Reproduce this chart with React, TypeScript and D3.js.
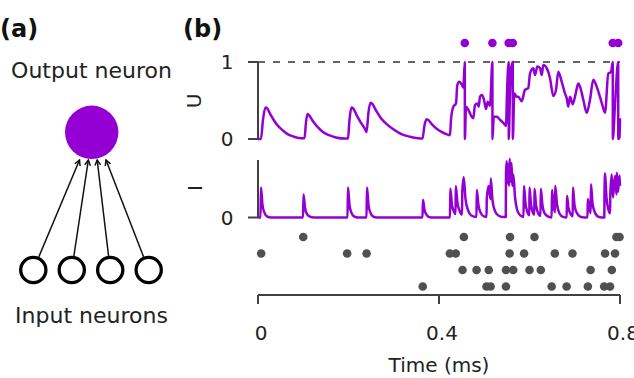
import React from 'react';
import * as d3 from 'd3';

const W = 634;
const H = 378;
const VIOLET = '#9400d3';
const DOT = '#505050';
const AXIS = '#404040';
const FONT = '"DejaVu Sans", sans-serif';

// Time axis (ms)
const xTicks = [0, 0.4, 0.8];
const xTickLabels = ['0', '0.4', '0.8'];
const uTicks = [0, 1];
const iTicks = [0];

// Output neuron spike times (ms)
const outputSpikes = [0.457, 0.518, 0.554, 0.563, 0.784, 0.796];

// Input neuron spike trains (ms), one list per neuron, top row first
const input1 = [0.1, 0.455, 0.557, 0.611, 0.792, 0.799];
const input2 = [0.007, 0.197, 0.24, 0.424, 0.437, 0.556, 0.588, 0.656, 0.695, 0.767, 0.789];
const input3 = [0.452, 0.483, 0.51, 0.548, 0.564, 0.6, 0.625, 0.735, 0.782];
const input4 = [0.364, 0.505, 0.514, 0.548, 0.649, 0.682, 0.729, 0.765, 0.778];
const inputTrains = [input1, input2, input3, input4];

// Membrane potential U of the output neuron: [time, U]
const potentialU: [number, number][] = [
  [0, 0], [0.0066, 0], [0.011, 0.25], [0.0166, 0.41], [0.0199, 0.4], [0.0265, 0.33],
  [0.0354, 0.24], [0.0442, 0.17], [0.0552, 0.11], [0.0663, 0.06], [0.0796, 0.03],
  [0.095, 0.01], [0.1028, 0.01], [0.1061, 0.22], [0.1094, 0.325], [0.1127, 0.31],
  [0.1215, 0.23], [0.1326, 0.15], [0.1436, 0.09], [0.1569, 0.05], [0.1724, 0.02],
  [0.1923, 0.005], [0.1989, 0.005], [0.2022, 0.25], [0.2066, 0.41], [0.2099, 0.4],
  [0.2188, 0.3], [0.2276, 0.21], [0.2365, 0.13], [0.2398, 0.09], [0.2442, 0.35],
  [0.2486, 0.47], [0.2519, 0.46], [0.2608, 0.37], [0.2718, 0.27], [0.2851, 0.19],
  [0.3006, 0.12], [0.3182, 0.06], [0.3359, 0.03], [0.3536, 0.01], [0.3635, 0.005],
  [0.368, 0.18], [0.3724, 0.256], [0.3757, 0.25], [0.3845, 0.19], [0.3956, 0.13],
  [0.4066, 0.09], [0.4177, 0.06], [0.4243, 0.05], [0.4265, 0.25], [0.4316, 0.42],
  [0.4376, 0.46], [0.4404, 0.7], [0.4449, 0.745], [0.4502, 0.71], [0.4537, 0.67],
  [0.457, 1.0], [0.4572, 0], [0.4597, 0.42], [0.4648, 0.38], [0.4722, 0.29],
  [0.4758, 0.27], [0.4796, 0.44], [0.4847, 0.46], [0.4878, 0.42], [0.4906, 0.55],
  [0.495, 0.57], [0.4994, 0.51], [0.5039, 0.39], [0.5076, 0.485], [0.5127, 0.43],
  [0.518, 1.0], [0.5182, 0], [0.521, 0.29], [0.5275, 0.29], [0.5348, 0.25],
  [0.5436, 0.2], [0.5481, 0.17], [0.5503, 0.6], [0.554, 1.0], [0.5542, 0],
  [0.5569, 0.6], [0.5591, 0.9], [0.563, 1.0], [0.5632, 0], [0.5664, 0.59],
  [0.5717, 0.55], [0.5752, 0.55], [0.5827, 0.49], [0.5901, 0.64], [0.5973, 0.66],
  [0.6011, 0.85], [0.6084, 0.92], [0.6122, 0.83], [0.6172, 0.94], [0.6232, 0.92],
  [0.627, 0.83], [0.6305, 0.96], [0.638, 0.92], [0.6453, 0.79], [0.6526, 0.56],
  [0.6586, 0.64], [0.6636, 0.875], [0.6711, 0.745], [0.6785, 0.59], [0.6822, 0.53],
  [0.6857, 0.42], [0.6895, 0.55], [0.6955, 0.45], [0.7006, 0.55], [0.7078, 0.72],
  [0.7116, 0.68], [0.7189, 0.51], [0.7264, 0.34], [0.7337, 0.51], [0.741, 0.77],
  [0.7485, 0.68], [0.7596, 0.47], [0.7669, 0.34], [0.7741, 0.85], [0.7801, 0.87],
  [0.784, 1.0], [0.7842, 0], [0.789, 0.45], [0.796, 1.0], [0.7962, 0],
  [0.7989, 0.02], [0.8, 0.27],
];

// Synaptic input current I: [time, I]
const currentI: [number, number][] = [
  [0, 0], [0.0055, 0], [0.0066, 0.52], [0.0099, 0.22], [0.0144, 0.08], [0.0199, 0.02], [0.0287, 0],
  [0.0994, 0], [0.1006, 0.4], [0.1039, 0.17], [0.1083, 0.06], [0.1149, 0.015], [0.1238, 0],
  [0.1978, 0], [0.1989, 0.52], [0.2022, 0.22], [0.2066, 0.08], [0.2122, 0.02], [0.221, 0],
  [0.2398, 0], [0.2409, 0.52], [0.2442, 0.22], [0.2486, 0.08], [0.2541, 0.02], [0.263, 0],
  [0.3635, 0], [0.3646, 0.31], [0.368, 0.13], [0.3724, 0.05], [0.3779, 0.01], [0.3867, 0],
  [0.4243, 0], [0.425, 0.5], [0.4287, 0.22], [0.4331, 0.1], [0.4365, 0.06], [0.4371, 0.55],
  [0.4409, 0.25], [0.4453, 0.12], [0.4508, 0.05], [0.4515, 0.45], [0.4546, 0.7],
  [0.4586, 0.32], [0.4641, 0.13], [0.4707, 0.04], [0.4829, 0.01], [0.4835, 0.48],
  [0.4873, 0.21], [0.4928, 0.07], [0.4994, 0.02], [0.505, 0.01], [0.5056, 0.33],
  [0.5096, 0.55], [0.5138, 0.32], [0.5145, 0.68], [0.5182, 0.3], [0.5238, 0.11],
  [0.5304, 0.04], [0.5414, 0.01], [0.5476, 0.01], [0.5481, 0.8], [0.5498, 0.98],
  [0.5514, 0.6], [0.5525, 0.93], [0.5547, 0.55], [0.5562, 1.02], [0.558, 0.62],
  [0.5602, 0.95], [0.562, 0.55], [0.5642, 0.75], [0.568, 0.35], [0.5724, 0.14],
  [0.579, 0.04], [0.5867, 0.01], [0.5878, 0.55], [0.5912, 0.24], [0.5956, 0.09],
  [0.5996, 0.04], [0.6, 0.52], [0.6033, 0.23], [0.6077, 0.08], [0.6106, 0.05],
  [0.611, 0.5], [0.6144, 0.22], [0.6188, 0.08], [0.6243, 0.03], [0.625, 0.5],
  [0.6287, 0.21], [0.6343, 0.06], [0.6431, 0.01], [0.649, 0], [0.6497, 0.48],
  [0.653, 0.21], [0.6564, 0.09], [0.6568, 0.55], [0.6608, 0.23], [0.6663, 0.07],
  [0.674, 0.01], [0.6822, 0], [0.6829, 0.38], [0.6862, 0.16], [0.6917, 0.05],
  [0.6955, 0.02], [0.6961, 0.52], [0.6994, 0.22], [0.705, 0.07], [0.7138, 0.01],
  [0.7282, 0], [0.7288, 0.32], [0.7326, 0.14], [0.7352, 0.08], [0.7359, 0.58],
  [0.7392, 0.25], [0.7448, 0.08], [0.7536, 0.01], [0.7653, 0], [0.7657, 0.35],
  [0.7669, 0.77], [0.7702, 0.34], [0.7746, 0.13], [0.7779, 0.07], [0.7786, 0.4],
  [0.7817, 0.75], [0.7845, 0.35], [0.789, 0.72], [0.7923, 0.4], [0.7929, 0.78],
  [0.7956, 0.45], [0.7989, 0.73], [0.8, 0.55],
];

function NetworkDiagram() {
  // Output neuron and the four inputs feeding it
  const out = { cx: 91.7, cy: 132.3, r: 26.7 };
  const inY = 270;
  const inR = 12.6;
  const inX = d3.scaleLinear().domain([0, 3]).range([33.3, 148.7]);
  const tipX = d3.scaleLinear().domain([0, 3]).range([79.5, 106]);
  const tipY = 160;
  const idx = [0, 1, 2, 3];

  return (
    <g>
      <text x={0} y={37} fontFamily={FONT} fontWeight="bold" fontSize={24} fill="#111">(a)</text>
      <text x={91.5} y={78} textAnchor="middle" fontFamily={FONT} fontSize={22} fill="#222">Output neuron</text>
      <circle cx={out.cx} cy={out.cy} r={out.r} fill={VIOLET} />
      {idx.map((i) => {
        const sx0 = inX(i);
        const tx = tipX(i);
        const dx = tx - sx0;
        const dy = tipY - inY;
        const len = Math.hypot(dx, dy);
        const ux = dx / len;
        const uy = dy / len;
        const start = [sx0 + ux * (inR + 1.5), inY + uy * (inR + 1.5)];
        const head = 6;
        const ang = (28 * Math.PI) / 180;
        const bx = -ux;
        const by = -uy;
        const h1 = [tx + head * (bx * Math.cos(ang) - by * Math.sin(ang)), tipY + head * (bx * Math.sin(ang) + by * Math.cos(ang))];
        const h2 = [tx + head * (bx * Math.cos(-ang) - by * Math.sin(-ang)), tipY + head * (bx * Math.sin(-ang) + by * Math.cos(-ang))];
        return (
          <g key={i} stroke="#111" strokeWidth={1.5} fill="none">
            <line x1={start[0]} y1={start[1]} x2={tx} y2={tipY} />
            <path d={`M${h1[0]},${h1[1]}L${tx},${tipY}L${h2[0]},${h2[1]}`} />
          </g>
        );
      })}
      {idx.map((i) => (
        <circle key={'n' + i} cx={inX(i)} cy={inY} r={inR} fill="#fff" stroke="#000" strokeWidth={3.3} />
      ))}
      <text x={91.5} y={323} textAnchor="middle" fontFamily={FONT} fontSize={22} fill="#222">Input neurons</text>
    </g>
  );
}

function TracePanel() {
  const x = d3.scaleLinear().domain([0, 0.8]).range([258, 620]);
  const yU = d3.scaleLinear().domain([0, 1]).range([139, 62]);
  const yI = d3.scaleLinear().domain([0, 1]).range([217.5, 160]);
  const yRow = d3.scaleLinear().domain([0, 3]).range([237, 286.5]);
  const yOut = 43;
  const xAxisY = 295;

  const uLine = d3.line<[number, number]>().x((d) => x(d[0])).y((d) => yU(d[1])).curve(d3.curveMonotoneX);
  const iLine = d3.line<[number, number]>().x((d) => x(d[0])).y((d) => yI(d[1])).curve(d3.curveMonotoneX);

  const x0 = x(0);
  const tickLen = 10;

  return (
    <g fontFamily={FONT}>
      <text x={183} y={37} fontWeight="bold" fontSize={24} fill="#111">(b)</text>

      {/* output spikes */}
      {outputSpikes.map((t, i) => (
        <circle key={'o' + i} cx={x(t)} cy={yOut} r={4.3} fill={VIOLET} />
      ))}

      {/* U panel */}
      <line x1={x0} x2={x(0.8)} y1={yU(1)} y2={yU(1)} stroke="#333" strokeWidth={1.5} strokeDasharray="7 8" />
      <line x1={x0} x2={x0} y1={yU(0)} y2={yU(1)} stroke={AXIS} strokeWidth={2} />
      {uTicks.map((v) => (
        <g key={'u' + v}>
          <line x1={x0 - tickLen} x2={x0} y1={yU(v)} y2={yU(v)} stroke={AXIS} strokeWidth={2} />
          <text x={227} y={yU(v)} dy="0.36em" textAnchor="middle" fontSize={20} fill="#222">{v}</text>
        </g>
      ))}
      <text transform={`translate(201,101) rotate(-90)`} textAnchor="middle" fontSize={20} fill="#222">U</text>
      <path d={uLine(potentialU) || ''} fill="none" stroke={VIOLET} strokeWidth={2.5} strokeLinejoin="round" />

      {/* I panel */}
      <line x1={x0} x2={x0} y1={yI(0)} y2={yI(1)} stroke={AXIS} strokeWidth={2} />
      {iTicks.map((v) => (
        <g key={'i' + v}>
          <line x1={x0 - tickLen} x2={x0} y1={yI(v)} y2={yI(v)} stroke={AXIS} strokeWidth={2} />
          <text x={227} y={yI(v)} dy="0.36em" textAnchor="middle" fontSize={20} fill="#222">{v}</text>
        </g>
      ))}
      <text transform={`translate(202,188) rotate(-90)`} textAnchor="middle" fontSize={20} fill="#222">I</text>
      <path d={iLine(currentI) || ''} fill="none" stroke={VIOLET} strokeWidth={2.5} strokeLinejoin="round" />

      {/* input raster */}
      {inputTrains.map((train, r) =>
        train.map((t, k) => <circle key={`r${r}-${k}`} cx={x(t)} cy={yRow(r)} r={4.3} fill={DOT} />)
      )}

      {/* time axis */}
      <line x1={x0} x2={x(0.8)} y1={xAxisY} y2={xAxisY} stroke={AXIS} strokeWidth={2} />
      {xTicks.map((t, i) => (
        <g key={'x' + i}>
          <line x1={x(t)} x2={x(t)} y1={xAxisY} y2={xAxisY + 9} stroke={AXIS} strokeWidth={2} />
          <text x={x(t) + 3} y={340} textAnchor="middle" fontSize={20} fill="#222">{xTickLabels[i]}</text>
        </g>
      ))}
      <text x={x(0.4)} y={372} textAnchor="middle" fontSize={20} fill="#222">Time (ms)</text>
    </g>
  );
}

export default function App() {
  return (
    <svg
      width={W}
      height={H}
      viewBox={`0 0 ${W} ${H}`}
      style={{ position: 'absolute', left: 0, top: 0, background: '#fff' }}
    >
      <rect width={W} height={H} fill="#fff" />
      <NetworkDiagram />
      <TracePanel />
    </svg>
  );
}
